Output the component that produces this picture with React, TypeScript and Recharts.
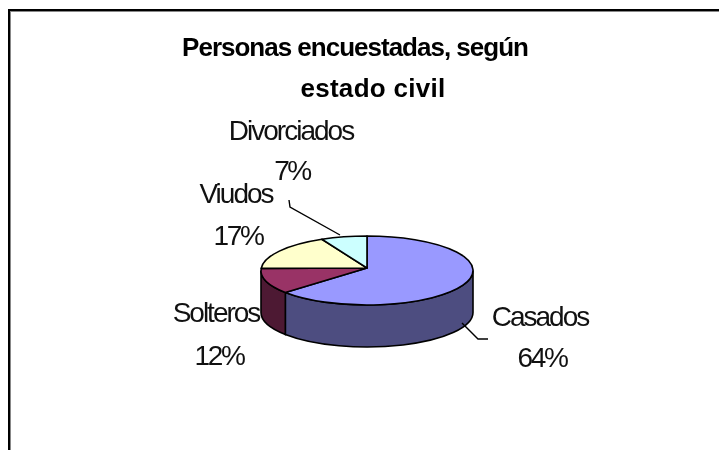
import { Pie, PieChart } from 'recharts';

const categories = ['Casados', 'Solteros', 'Viudos', 'Divorciados'];
const percents = [64, 12, 17, 7];
const topColors = ['#9999ff', '#993366', '#ffffcc', '#ccffff'];
const wallColors = ['#4d4d80', '#4d1933', '#808066', '#668080'];
const titleLines = ['Personas encuestadas, según', 'estado civil'];

const chartData = categories.map((name, i) => ({
  name,
  value: percents[i],
  fill: topColors[i],
  wall: wallColors[i],
}));

// chart layout, in page pixels (the chart sits at the page origin)
const PIE_CX = 367;
const PIE_CY = 270.5;
const PIE_RX = 106;
const PIE_RY = 34.5;
const PIE_DEPTH = 42;
const APEX_LIFT = 2.5;

const LABEL_POS = [
  { x: 540, xPct: 542, y1: 326, y2: 367 },
  { x: 216, xPct: 219, y1: 322, y2: 365 },
  { x: 236, xPct: 238, y1: 203, y2: 245 },
  { x: 291, xPct: 292, y1: 140, y2: 180 },
];
const LEADERS = [
  '462,323 478,339 488,339',
  '',
  '',
  '289,200 290,207 340,235',
];

const rad = (deg: number) => (deg * Math.PI) / 180;
const px = (deg: number) => PIE_CX + PIE_RX * Math.cos(rad(deg));
const py = (deg: number) => PIE_CY - PIE_RY * Math.sin(rad(deg));

// Recharts hands over the slice angles; squash them into a tilted 3D slice
function Slice3D(props: any) {
  const { startAngle, endAngle, fill, wall } = props;
  const large = startAngle - endAngle > 180 ? 1 : 0;
  const top =
    `M${PIE_CX},${PIE_CY - APEX_LIFT} L${px(startAngle)},${py(startAngle)} ` +
    `A${PIE_RX},${PIE_RY} 0 ${large} 1 ${px(endAngle)},${py(endAngle)} Z`;

  // only the part on the front half of the ellipse shows a wall
  const from = Math.min(startAngle, 0);
  const to = Math.max(endAngle, -180);
  const side =
    from > to
      ? `M${px(from)},${py(from)} A${PIE_RX},${PIE_RY} 0 0 1 ${px(to)},${py(to)} ` +
        `L${px(to)},${py(to) + PIE_DEPTH} ` +
        `A${PIE_RX},${PIE_RY} 0 0 0 ${px(from)},${py(from) + PIE_DEPTH} Z`
      : null;

  return (
    <g>
      {side && <path d={side} fill={wall} stroke="#000" strokeWidth={1.6} />}
      <path d={top} fill={fill} stroke="#000" strokeWidth={1.6} strokeLinejoin="round" />
    </g>
  );
}

function SliceLabel(props: any) {
  const { index, name, value } = props;
  const pos = LABEL_POS[index];
  return (
    <g>
      {LEADERS[index] && <polyline points={LEADERS[index]} fill="none" stroke="#000" strokeWidth={1.4} />}
      <text x={pos.x} y={pos.y1} textAnchor="middle" fontSize={28} letterSpacing={-2} fill="#111">
        {name}
      </text>
      <text x={pos.xPct} y={pos.y2} textAnchor="middle" fontSize={28} letterSpacing={-2.4} fill="#111">
        {value}%
      </text>
    </g>
  );
}

export default function App() {
  return (
    <div style={{ position: 'absolute', left: 0, top: 0, width: 719, height: 450, background: '#fff', overflow: 'hidden' }}>
      <div
        style={{
          position: 'absolute',
          left: 8,
          top: 9,
          width: 711,
          height: 441,
          borderLeft: '2px solid #000',
          borderTop: '2px solid #000',
          boxShadow: 'inset 1px 1px 0 #888',
          boxSizing: 'border-box',
        }}
      />
      <div style={{ position: 'absolute', left: 0, top: 0, filter: 'blur(0.5px)', fontFamily: '"Liberation Sans", Arial, sans-serif' }}>
        <PieChart width={719} height={450} margin={{ top: 0, right: 0, bottom: 0, left: 0 }}>
          <text x={355} y={56} textAnchor="middle" fontSize={26} fontWeight="bold" letterSpacing={-1} fill="#000">
            {titleLines[0]}
          </text>
          <text x={373} y={97} textAnchor="middle" fontSize={26} fontWeight="bold" letterSpacing={0.3} fill="#000">
            {titleLines[1]}
          </text>
          <Pie
            data={chartData}
            dataKey="value"
            nameKey="name"
            cx={PIE_CX}
            cy={PIE_CY}
            outerRadius={PIE_RX}
            startAngle={90}
            endAngle={-270}
            paddingAngle={0}
            shape={Slice3D}
            label={SliceLabel}
            labelLine={false}
            isAnimationActive={false}
          />
        </PieChart>
      </div>
    </div>
  );
}
